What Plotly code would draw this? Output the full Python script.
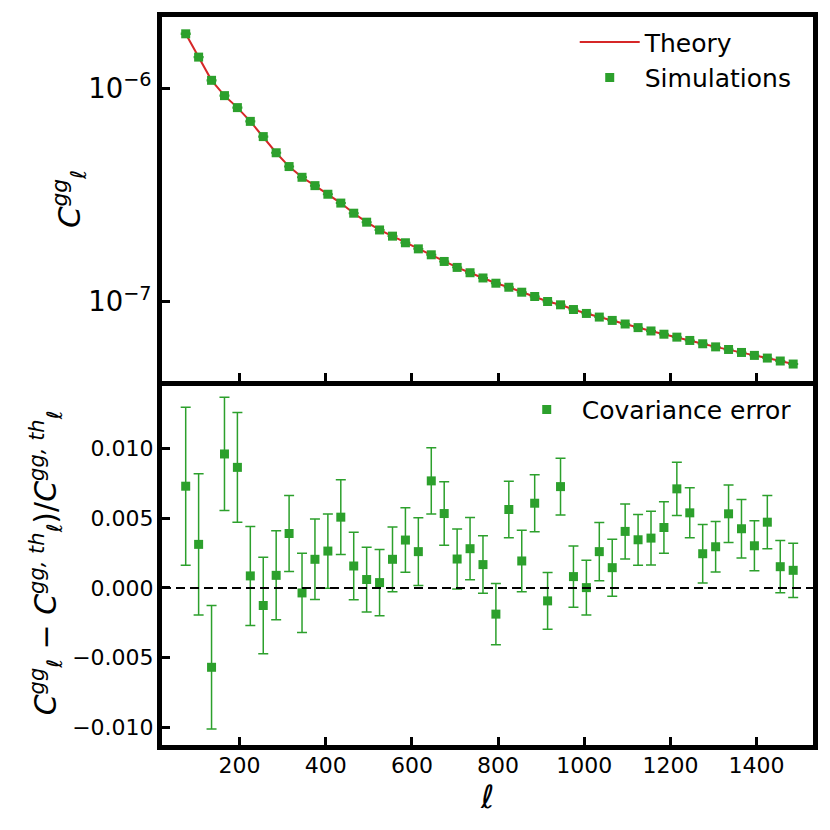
import numpy as np
import plotly.graph_objects as go
from plotly.subplots import make_subplots

# multipole bin centres
ell = [75, 105, 135, 165, 195, 225, 255, 285, 315, 345, 375, 405, 435, 465, 495, 525,
       555, 585, 615, 645, 675, 705, 735, 765, 795, 825, 855, 885, 915, 945, 975, 1005,
       1035, 1065, 1095, 1125, 1155, 1185, 1215, 1245, 1275, 1305, 1335, 1365, 1395,
       1425, 1455, 1485]

# theory curve C_l^gg
cl_theory = [1.80e-6, 1.40e-6, 1.09e-6, 9.24e-7, 8.12e-7, 7.00e-7, 5.94e-7, 4.99e-7,
             4.30e-7, 3.83e-7, 3.50e-7, 3.19e-7, 2.90e-7, 2.60e-7, 2.36e-7, 2.17e-7,
             2.03e-7, 1.89e-7, 1.77e-7, 1.66e-7, 1.545e-7, 1.449e-7, 1.368e-7, 1.293e-7,
             1.222e-7, 1.170e-7, 1.109e-7, 1.059e-7, 1.003e-7, 9.68e-8, 9.20e-8, 8.82e-8,
             8.48e-8, 8.18e-8, 7.87e-8, 7.57e-8, 7.30e-8, 7.05e-8, 6.83e-8, 6.59e-8,
             6.36e-8, 6.15e-8, 5.98e-8, 5.79e-8, 5.61e-8, 5.45e-8, 5.28e-8, 5.11e-8]

# simulation means (on top of the theory at this scale)
cl_sim = [1.80e-6, 1.40e-6, 1.09e-6, 9.24e-7, 8.12e-7, 7.00e-7, 5.94e-7, 4.99e-7,
          4.30e-7, 3.83e-7, 3.50e-7, 3.19e-7, 2.90e-7, 2.60e-7, 2.36e-7, 2.17e-7,
          2.03e-7, 1.89e-7, 1.77e-7, 1.66e-7, 1.545e-7, 1.449e-7, 1.368e-7, 1.293e-7,
          1.222e-7, 1.170e-7, 1.109e-7, 1.059e-7, 1.003e-7, 9.68e-8, 9.20e-8, 8.82e-8,
          8.48e-8, 8.18e-8, 7.87e-8, 7.57e-8, 7.30e-8, 7.05e-8, 6.83e-8, 6.59e-8,
          6.36e-8, 6.15e-8, 5.98e-8, 5.79e-8, 5.61e-8, 5.45e-8, 5.28e-8, 5.11e-8]

# relative difference (sim - th)/th
frac_diff = [0.00729, 0.00312, -0.00569, 0.00960, 0.00864, 0.00086, -0.00126, 0.00090,
             0.00390, -0.00036, 0.00205, 0.00264, 0.00507, 0.00157, 0.00060, 0.00038,
             0.00205, 0.00343, 0.00260, 0.00767, 0.00533, 0.00207, 0.00281, 0.00167,
             -0.00188, 0.00562, 0.00193, 0.00607, -0.00093, 0.00726, 0.00081, 0.00002,
             0.00260, 0.00145, 0.00405, 0.00345, 0.00357, 0.00433, 0.00710, 0.00538,
             0.00245, 0.00295, 0.00531, 0.00424, 0.00302, 0.00471, 0.00152, 0.00126]

# relative covariance error
frac_err = [0.00566, 0.00507, 0.00443, 0.00406, 0.00393, 0.00355, 0.00346, 0.00319,
            0.00272, 0.00284, 0.00289, 0.00266, 0.00268, 0.00242, 0.00232, 0.00237,
            0.00232, 0.00231, 0.00242, 0.00237, 0.00227, 0.00215, 0.00223, 0.00206,
            0.00219, 0.00203, 0.00221, 0.00204, 0.00204, 0.00203, 0.00219, 0.00197,
            0.00209, 0.00204, 0.00197, 0.00182, 0.00193, 0.00185, 0.00191, 0.00179,
            0.00210, 0.00181, 0.00206, 0.00210, 0.00179, 0.00191, 0.00187, 0.00194]

red = "#d62728"
green = "#2ca02c"
font = "DejaVu Sans"

sim_err = np.array(frac_err) * np.array(cl_sim)

fig = make_subplots(rows=2, cols=1, shared_xaxes=True, vertical_spacing=0)

fig.add_trace(go.Scatter(x=ell, y=cl_theory, mode="lines", name="Theory",
                         line=dict(color=red, width=2), legend="legend"), row=1, col=1)
fig.add_trace(go.Scatter(x=ell, y=cl_sim, mode="markers", name="Simulations",
                         marker=dict(symbol="square", size=9, color=green),
                         error_y=dict(type="data", array=sim_err, color=green,
                                      thickness=1.5, width=5),
                         legend="legend"), row=1, col=1)

fig.add_trace(go.Scatter(x=ell, y=frac_diff, mode="markers", name="Covariance error",
                         marker=dict(symbol="square", size=9, color=green),
                         error_y=dict(type="data", array=frac_err, color=green,
                                      thickness=1.5, width=5),
                         legend="legend2"), row=2, col=1)

fig.add_hline(y=0, line=dict(color="black", width=2, dash="9px,5px"), row=2, col=1)

axis_common = dict(showline=True, linewidth=5, linecolor="black",
                   ticks="inside", ticklen=8, tickwidth=3, tickcolor="black",
                   showgrid=False, zeroline=False,
                   tickfont=dict(family=font, size=22, color="black"))

fig.update_xaxes(range=[20, 1531], dtick=200, **axis_common)
# top panel: frame on top and bottom; bottom panel: only its own bottom edge
fig.update_xaxes(showticklabels=False, mirror=True, row=1, col=1)
fig.update_xaxes(mirror=False, ticklabelstandoff=-3,
                 title=dict(text="<i>ℓ</i>", font=dict(family=font, size=32, color="black"),
                            standoff=0), row=2, col=1)

fig.update_yaxes(mirror=True, **axis_common)
fig.update_yaxes(type="log", range=[-7.371, -5.666], dtick=1,
                 exponentformat="power", ticklabelstandoff=1,
                 title=dict(text="<i>C</i><sup><i>gg</i></sup><sub><i>ℓ</i></sub>",
                            font=dict(family=font, size=31, color="black"), standoff=0),
                 row=1, col=1)
fig.update_yaxes(range=[-0.01126, 0.01483], tickvals=[-0.01, -0.005, 0, 0.005, 0.01],
                 tickformat=".3f", ticklabelstandoff=-1,
                 title=dict(text="<i>C</i><sup><i>gg</i></sup><sub><i>ℓ</i></sub> − "
                                 "<i>C</i><sup><i>gg, th</i></sup><sub><i>ℓ</i></sub>)/"
                                 "<i>C</i><sup><i>gg, th</i></sup><sub><i>ℓ</i></sub>",
                            font=dict(family=font, size=30, color="black"), standoff=8),
                 row=2, col=1)

fig.update_layout(
    width=830, height=830,
    margin=dict(l=162, r=12, t=12, b=85),
    plot_bgcolor="white", paper_bgcolor="white",
    font=dict(family=font, color="black"),
    showlegend=True,
    legend=dict(x=0.975, y=0.997, xanchor="right", yanchor="top",
                font=dict(family=font, size=25, color="black"),
                bgcolor="rgba(0,0,0,0)", itemwidth=60, tracegroupgap=0),
    legend2=dict(x=0.975, y=0.492, xanchor="right", yanchor="top",
                 font=dict(family=font, size=25, color="black"),
                 bgcolor="rgba(0,0,0,0)", itemwidth=60),
)

fig.write_html("out.html", config={"displayModeBar": False},
               post_script="document.body.style.margin='0';"
                           "document.body.style.overflow='hidden';")
